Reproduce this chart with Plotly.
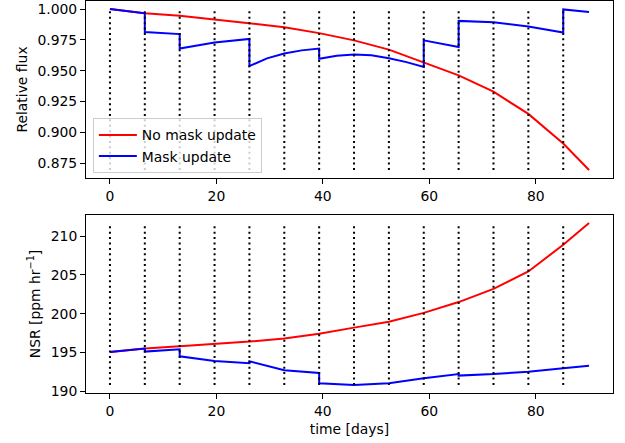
import plotly.graph_objects as go

# ---- data ----
update_times = [0, 6.55, 13.1, 19.65, 26.2, 32.75, 39.3, 45.85, 52.4, 58.95, 65.5, 72.05, 78.6, 85.15]

t_red = [0, 6.55, 13.1, 19.65, 26.2, 32.75, 39.3, 45.85, 52.4, 58.95, 65.5, 72.05, 78.6, 85.15, 90]
flux_red = [1.000, 0.9966, 0.9946, 0.9917, 0.9885, 0.9853, 0.9805, 0.9746, 0.9671, 0.9570,
            0.9463, 0.9330, 0.9150, 0.8910, 0.8696]
nsr_red = [195.05, 195.5, 195.8, 196.1, 196.4, 196.8, 197.4, 198.2, 198.95, 200.1,
           201.5, 203.2, 205.45, 208.9, 211.7]

t_blue_flux = [0, 6.55, 6.55, 13.1, 13.1, 19.65, 26.2, 26.2, 29.5, 32.75, 36, 39.3, 39.3,
               42.6, 45.85, 49.1, 52.4, 55.7, 58.95, 58.95, 65.5, 65.5, 72.05, 78.6, 85.15, 85.15, 90]
flux_blue = [1.000, 0.9965, 0.9813, 0.9797, 0.9680, 0.9728, 0.9758, 0.9538, 0.9600, 0.9640,
             0.9665, 0.9680, 0.9597, 0.9622, 0.9631, 0.9625, 0.9602, 0.9570, 0.9530, 0.9746,
             0.9692, 0.9904, 0.9893, 0.9858, 0.9810, 0.9997, 0.9976]

t_blue_nsr = [0, 6.55, 6.55, 13.1, 13.1, 19.65, 26.2, 26.2, 32.75, 39.3, 39.3, 45.85, 52.4,
              58.95, 65.5, 65.5, 72.05, 78.6, 85.15, 90]
nsr_blue = [195.05, 195.5, 195.1, 195.4, 194.5, 193.9, 193.6, 193.85, 192.7, 192.35, 191.0,
            190.8, 191.0, 191.65, 192.2, 192.0, 192.2, 192.5, 192.95, 193.27]

RED = "#ff0000"
BLUE = "#0000ff"
FONT = "DejaVu Sans"
FS = 13.9


def vline_xy(times, lo, hi):
    xs, ys = [], []
    for t in times:
        xs += [t, t, None]
        ys += [lo, hi, None]
    return xs, ys


def pad_range(vals, frac=0.05):
    lo, hi = min(vals), max(vals)
    d = (hi - lo) * frac
    return [lo - d, hi + d]


fig = go.Figure()

# top panel
fig.add_trace(go.Scatter(x=t_red, y=flux_red, mode="lines", name="No mask update",
                         line=dict(color=RED, width=2), xaxis="x", yaxis="y"))
fig.add_trace(go.Scatter(x=t_blue_flux, y=flux_blue, mode="lines", name="Mask update",
                         line=dict(color=BLUE, width=2), xaxis="x", yaxis="y"))
all_flux = flux_red + flux_blue
vx, vy = vline_xy(update_times, min(all_flux), max(all_flux))
fig.add_trace(go.Scatter(x=vx, y=vy, mode="lines", showlegend=False,
                         line=dict(color="black", width=2, dash="2px,3.4px"),
                         xaxis="x", yaxis="y", hoverinfo="skip"))

# bottom panel
fig.add_trace(go.Scatter(x=t_red, y=nsr_red, mode="lines", showlegend=False,
                         line=dict(color=RED, width=2), xaxis="x2", yaxis="y2"))
fig.add_trace(go.Scatter(x=t_blue_nsr, y=nsr_blue, mode="lines", showlegend=False,
                         line=dict(color=BLUE, width=2), xaxis="x2", yaxis="y2"))
all_nsr = nsr_red + nsr_blue
vx2, vy2 = vline_xy(update_times, min(all_nsr), max(all_nsr))
fig.add_trace(go.Scatter(x=vx2, y=vy2, mode="lines", showlegend=False,
                         line=dict(color="black", width=2, dash="2px,3.4px"),
                         xaxis="x2", yaxis="y2", hoverinfo="skip"))

xr = pad_range([0, 90])
axis_common = dict(showline=True, mirror=True, linecolor="black", linewidth=1,
                   ticks="outside", ticklen=5, tickwidth=1, tickcolor="black",
                   showgrid=False, zeroline=False, automargin=False,
                   tickfont=dict(family=FONT, size=FS, color="black"))

fig.update_layout(
    width=625, height=443,
    margin=dict(l=86, r=12, t=1, b=50),
    paper_bgcolor="white", plot_bgcolor="white",
    font=dict(family=FONT, size=FS, color="black"),
    xaxis=dict(domain=[0, 1], range=xr, tickvals=[0, 20, 40, 60, 80], anchor="y", **axis_common),
    yaxis=dict(domain=[0.5485, 1.0], range=pad_range(all_flux),
               tickvals=[0.875, 0.900, 0.925, 0.950, 0.975, 1.000], tickformat=".3f",
               title=dict(text="Relative flux", font=dict(family=FONT, size=FS), standoff=6),
               anchor="x", **axis_common),
    xaxis2=dict(domain=[0, 1], range=xr, tickvals=[0, 20, 40, 60, 80], anchor="y2",
                title=dict(text="time [days]", font=dict(family=FONT, size=FS), standoff=6),
                **axis_common),
    yaxis2=dict(domain=[0, 0.4541], range=pad_range(all_nsr),
                tickvals=[190, 195, 200, 205, 210],
                title=dict(text="NSR [ppm hr<sup>−1</sup>]", font=dict(family=FONT, size=FS), standoff=6),
                anchor="x2", **axis_common),
    legend=dict(x=0.013, y=0.560, xanchor="left", yanchor="bottom", itemwidth=38,
                bgcolor="rgba(255,255,255,0.8)", bordercolor="#cccccc", borderwidth=1,
                font=dict(family=FONT, size=FS, color="black"), tracegroupgap=0),
)

fig.write_html("out.html", config={"displayModeBar": False},
               post_script="document.body.style.margin='0';document.body.style.padding='0';")
